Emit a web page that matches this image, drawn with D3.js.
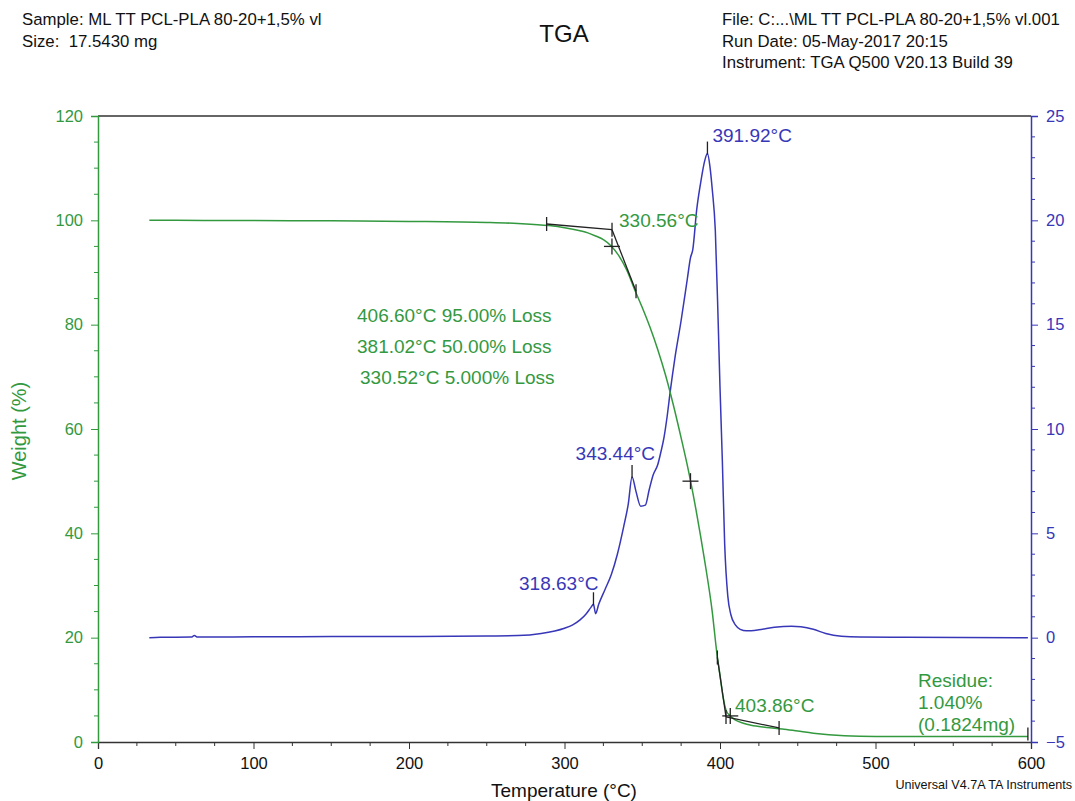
<!DOCTYPE html>
<html><head><meta charset="utf-8">
<script src="https://cdn.jsdelivr.net/npm/d3@7"></script>
<style>
html,body{margin:0;padding:0;background:#fff;overflow:hidden;}
svg{display:block;font-family:"Liberation Sans",Arial,sans-serif;}
</style></head>
<body><svg id="c" width="1075" height="801"></svg>
<script>
// ---------- data ----------
const weightTemp = [33,50,100,150,200,250,270,290,300,310,315,320,325,330,335,340,345,350,355,360,365,370,375,380,385,390,395,398,400,402,404,406.6,410,415,420,430,440,450,460,470,480,490,500,550,598];
const weightPct  = [100,100,99.95,99.9,99.8,99.6,99.4,99.0,98.6,98.0,97.6,97.0,96.3,95.1,93.2,90.5,86.8,83.3,79.5,75.2,70.3,64.6,58.3,51.6,43.8,35.0,25.0,17.0,12.8,8.6,6.0,5.0,4.2,3.6,3.2,2.8,2.5,2.1,1.7,1.4,1.2,1.1,1.07,1.05,1.04];

const derivTemp = [33,40,60,62,64,100,150,200,250,270,285,300,305,310,314,317,318.63,320,322,326,330,334,338,341,343.44,346,349,352,354.5,357,360,362,364,366,368,371,375,379,381,382.5,385,388,390,391.92,393.5,395,397,398.8,400,401.5,403,405,407,410,413,417,425,435,446,452,460,468,478,490,520,598];
const derivVal  = [0,0.02,0.03,0.1,0.03,0.04,0.05,0.05,0.08,0.1,0.2,0.45,0.6,0.85,1.15,1.45,1.6,1.15,1.6,2.3,3.0,4.0,5.3,6.4,7.7,7.0,6.3,6.35,7.1,7.8,8.3,8.9,9.6,10.6,11.8,13.4,15.2,17.2,18.2,18.6,20.5,22.0,22.8,23.2,22.6,21.5,19.5,15.2,12.0,8.5,4.5,2.0,1.1,0.6,0.4,0.33,0.38,0.5,0.55,0.52,0.4,0.2,0.07,0.03,0.02,0.0];

const xTicks = [0,100,200,300,400,500,600];
const yLeftTicks = [0,20,40,60,80,100,120];
const yRightTicks = [-5,0,5,10,15,20,25];

// onset / endset construction (temperature, weight %)
const onsetLines = [[[288.5,99.3],[330.56,98.2]],[[330.56,98.2],[346,86.4]]];
const onsetTickPts = [[288.5,99.3],[330.56,98.2],[346,86.4]];
const endsetLines = [[[398.3,16.2],[403.86,4.8]],[[403.86,4.8],[438,2.7]]];
const endsetTickPts = [[398.3,16.2],[403.86,4.8],[438,2.7]];
const crossPts = [[330.52,95],[381.02,50],[406.6,5]];
const peakTemps = [318.63,343.44,391.92];
const peakVals = [1.6,7.7,23.2];
const peakLabels = ["318.63°C","343.44°C","391.92°C"];
const lossLabels = ["406.60°C 95.00% Loss","381.02°C 50.00% Loss","330.52°C 5.000% Loss"];
const residueLabels = ["Residue:","1.040%","(0.1824mg)"];

// ---------- layout ----------
const W = 1075, H = 801;
const m = {l:98, r:44, t:116, b:59};
const GREEN = "#33993f", BLUE = "#3737b8", BLACK = "#222";
const svg = d3.select("#c");

const x = d3.scaleLinear().domain([0,600]).range([m.l, W-m.r]);
const yL = d3.scaleLinear().domain([0,120]).range([H-m.b, m.t]);
const yR = d3.scaleLinear().domain([-5,25]).range([H-m.b, m.t]);

// header
const hdr = svg.append("g").attr("font-size",16.8).attr("fill","#111");
hdr.append("text").attr("x",22).attr("y",25).text("Sample: ML TT PCL-PLA 80-20+1,5% vl");
hdr.append("text").attr("x",22).attr("y",47).attr("xml:space","preserve").text("Size:  17.5430 mg");
hdr.append("text").attr("x",722).attr("y",25).text("File: C:...\\ML TT PCL-PLA 80-20+1,5% vl.001");
hdr.append("text").attr("x",722).attr("y",47).text("Run Date: 05-May-2017 20:15");
hdr.append("text").attr("x",722).attr("y",68).text("Instrument: TGA Q500 V20.13 Build 39");
svg.append("text").attr("x",564).attr("y",42).attr("text-anchor","middle").attr("font-size",24).attr("fill","#111").text("TGA");

// frame top line
svg.append("line").attr("x1",x(0)).attr("x2",x(600)).attr("y1",yL(120)).attr("y2",yL(120)).attr("stroke","#333").attr("stroke-width",1.3);

// x axis
const gx = svg.append("g").attr("transform",`translate(0,${yL(0)})`)
  .call(d3.axisBottom(x).tickValues(xTicks).tickSize(7).tickPadding(8).tickFormat(d3.format("d")));
gx.selectAll("text").attr("font-size",16.5).attr("fill","#111").attr("font-family","'Liberation Sans',Arial,sans-serif");
gx.select(".domain").attr("stroke","#333").attr("stroke-width",1.3);
gx.selectAll(".tick line").attr("stroke","#333");
gx.selectAll(".minor").data(d3.range(25,600,25).filter(d=>d%100!==0)).enter().append("line")
  .attr("x1",d=>x(d)).attr("x2",d=>x(d)).attr("y1",0).attr("y2",4).attr("stroke","#333");

// left axis
const gl = svg.append("g").attr("transform",`translate(${x(0)},0)`)
  .call(d3.axisLeft(yL).tickValues(yLeftTicks).tickSize(7).tickPadding(8));
gl.selectAll("text").attr("font-size",16.5).attr("fill",GREEN).attr("font-family","'Liberation Sans',Arial,sans-serif");
gl.select(".domain").attr("stroke",GREEN).attr("stroke-width",1.5);
gl.selectAll(".tick line").attr("stroke",GREEN);
gl.selectAll(".minor").data(d3.range(5,120,5).filter(d=>d%20!==0)).enter().append("line")
  .attr("x1",0).attr("x2",-4).attr("y1",d=>yL(d)).attr("y2",d=>yL(d)).attr("stroke",GREEN);

// right axis
const gr = svg.append("g").attr("transform",`translate(${x(600)},0)`)
  .call(d3.axisRight(yR).tickValues(yRightTicks).tickSize(7).tickPadding(8));
gr.selectAll("text").attr("font-size",16.5).attr("fill",BLUE).attr("font-family","'Liberation Sans',Arial,sans-serif");
gr.select(".domain").attr("stroke",BLUE).attr("stroke-width",1.5);
gr.selectAll(".tick line").attr("stroke",BLUE);
gr.selectAll(".minor").data(d3.range(-4,25,1).filter(d=>d%5!==0)).enter().append("line")
  .attr("x1",0).attr("x2",4).attr("y1",d=>yR(d)).attr("y2",d=>yR(d)).attr("stroke",BLUE);

// axis titles
svg.append("text").attr("x",564).attr("y",797).attr("text-anchor","middle").attr("font-size",19).attr("fill","#111").text("Temperature (°C)");
svg.append("text").attr("transform","translate(26,431) rotate(-90)").attr("text-anchor","middle").attr("font-size",20).attr("fill",GREEN).text("Weight (%)");
svg.append("text").attr("x",1072).attr("y",789).attr("text-anchor","end").attr("font-size",12.6).attr("fill","#111").text("Universal V4.7A TA Instruments");

// curves
const wData = weightTemp.map((t,i)=>[t,weightPct[i]]);
const dData = derivTemp.map((t,i)=>[t,derivVal[i]]);
svg.append("path").datum(dData).attr("fill","none").attr("stroke",BLUE).attr("stroke-width",1.5)
  .attr("d",d3.line().x(d=>x(d[0])).y(d=>yR(d[1])).curve(d3.curveMonotoneX));
svg.append("path").datum(wData).attr("fill","none").attr("stroke",GREEN).attr("stroke-width",1.5)
  .attr("d",d3.line().x(d=>x(d[0])).y(d=>yL(d[1])).curve(d3.curveMonotoneX));

// construction lines
const cl = svg.append("g").attr("stroke",BLACK).attr("stroke-width",1.3).attr("fill","none");
onsetLines.concat(endsetLines).forEach(s=>{
  cl.append("line").attr("x1",x(s[0][0])).attr("y1",yL(s[0][1])).attr("x2",x(s[1][0])).attr("y2",yL(s[1][1]));
});
onsetTickPts.concat(endsetTickPts).forEach(p=>{
  cl.append("line").attr("x1",x(p[0])).attr("x2",x(p[0])).attr("y1",yL(p[1])-7).attr("y2",yL(p[1])+7);
});
crossPts.forEach(p=>{
  cl.append("line").attr("x1",x(p[0])-8).attr("x2",x(p[0])+8).attr("y1",yL(p[1])).attr("y2",yL(p[1]));
  cl.append("line").attr("x1",x(p[0])).attr("x2",x(p[0])).attr("y1",yL(p[1])-8).attr("y2",yL(p[1])+8);
});
// residue end tick
cl.append("line").attr("x1",x(598)).attr("x2",x(598)).attr("y1",yL(1.04)-9).attr("y2",yL(1.04)+4);
// peak ticks
peakTemps.forEach((t,i)=>{
  cl.append("line").attr("x1",x(t)).attr("x2",x(t)).attr("y1",yR(peakVals[i])-12).attr("y2",yR(peakVals[i])+1);
});

// labels
const lf = 19;
const pl = svg.append("g").attr("font-size",lf).attr("fill",BLUE);
pl.append("text").attr("x",x(peakTemps[0])+5).attr("y",yR(peakVals[0])-14).attr("text-anchor","end").text(peakLabels[0]);
pl.append("text").attr("x",x(peakTemps[1])+23).attr("y",yR(peakVals[1])-17).attr("text-anchor","end").text(peakLabels[1]);
pl.append("text").attr("x",x(peakTemps[2])+5).attr("y",yR(peakVals[2])-12).text(peakLabels[2]);

const gl2 = svg.append("g").attr("font-size",lf).attr("fill",GREEN);
gl2.append("text").attr("x",x(330.56)+7).attr("y",yL(98.2)-3).text("330.56°C");
gl2.append("text").attr("x",x(403.86)+9).attr("y",yL(4.8)-5).text("403.86°C");
[357,357,360].forEach((xx,i)=>gl2.append("text").attr("x",xx).attr("y",322+i*31).text(lossLabels[i]));
residueLabels.forEach((s,i)=>gl2.append("text").attr("x",918).attr("y",687+i*22).text(s));
</script></body></html>
